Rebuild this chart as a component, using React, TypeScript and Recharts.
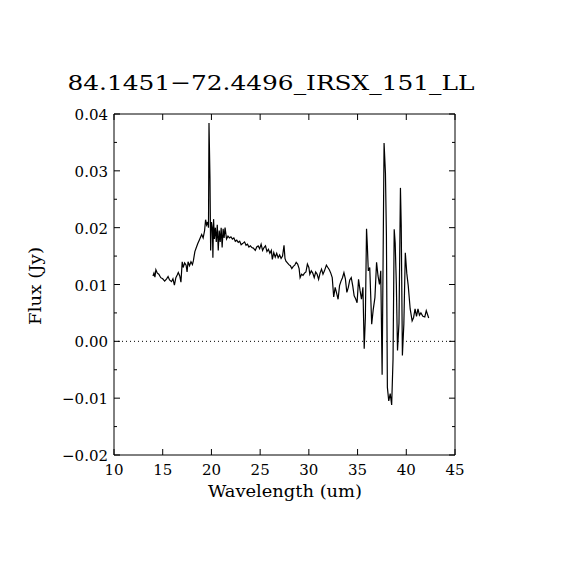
import { LineChart, Line, XAxis, YAxis, ReferenceLine } from 'recharts'

const title = '84.1451\u221272.4496_IRSX_151_LL'
const xLabel = 'Wavelength (um)'
const yLabel = 'Flux (Jy)'

const wavelength = [
  14.0, 14.1, 14.2, 14.3, 14.45, 14.6, 14.8, 15.0, 15.2, 15.4, 15.55, 15.7, 15.9, 16.05, 16.2,
  16.35, 16.5, 16.6, 16.75, 16.87, 17.0, 17.1, 17.25, 17.4, 17.5, 17.6, 17.75, 17.9, 18.05, 18.15,
  18.3, 18.45, 18.6, 18.75, 18.9, 19.0, 19.15, 19.3, 19.4, 19.5, 19.6, 19.7, 19.75, 19.85, 19.92,
  20.0, 20.1, 20.15, 20.22, 20.3, 20.4, 20.5, 20.6, 20.7, 20.8, 20.9, 21.0, 21.1, 21.2, 21.3,
  21.4, 21.55, 21.7, 21.85, 22.0, 22.15, 22.3, 22.45, 22.6, 22.75, 22.9, 23.05, 23.2, 23.4, 23.55,
  23.7, 23.85, 24.0, 24.15, 24.3, 24.5, 24.65, 24.8, 24.95, 25.1, 25.25, 25.4, 25.55, 25.7, 25.85,
  26.0, 26.15, 26.25, 26.4, 26.55, 26.7, 26.85, 27.0, 27.15, 27.3, 27.45, 27.55, 27.65, 27.8, 27.95,
  28.1, 28.25, 28.4, 28.55, 28.7, 28.85, 29.0, 29.1, 29.25, 29.4, 29.55, 29.7, 29.85, 30.0, 30.1,
  30.25, 30.4, 30.55, 30.7, 30.85, 31.0, 31.15, 31.3, 31.45, 31.6, 31.8, 31.95, 32.1, 32.25, 32.4,
  32.55, 32.7, 32.85, 33.0, 33.15, 33.3, 33.45, 33.6, 33.75, 33.9, 34.05, 34.2, 34.35, 34.5, 34.65,
  34.8, 34.95, 35.1, 35.25, 35.4, 35.55, 35.68, 35.8, 35.92, 36.0, 36.1, 36.25, 36.45, 36.6, 36.78,
  36.95, 37.1, 37.25, 37.38, 37.52, 37.72, 37.86, 37.96, 38.06, 38.2, 38.35, 38.5, 38.64, 38.76, 38.86,
  38.98, 39.1, 39.25, 39.4, 39.48, 39.6, 39.75, 39.9, 40.05, 40.2, 40.4, 40.6, 40.75, 40.9, 41.05,
  41.2, 41.35, 41.5, 41.7, 41.9, 42.05, 42.3,
]

const flux = [
  0.0115, 0.012, 0.0113, 0.0126, 0.012, 0.0118, 0.0112, 0.011, 0.0106, 0.011, 0.0114, 0.0108, 0.0105, 0.011, 0.0099,
  0.0112, 0.0117, 0.0121, 0.0115, 0.0104, 0.014, 0.013, 0.0138, 0.0134, 0.0122, 0.014, 0.0133, 0.014, 0.0135, 0.0142,
  0.0158, 0.0165, 0.0172, 0.0178, 0.0184, 0.0188, 0.0182, 0.0195, 0.0214, 0.0205, 0.021, 0.02, 0.0384, 0.0288, 0.016,
  0.021, 0.0198, 0.0147, 0.0215, 0.018, 0.02, 0.0175, 0.0205, 0.016, 0.0195, 0.0175, 0.02, 0.0165, 0.0198, 0.0182,
  0.02, 0.018, 0.0185, 0.0182, 0.0184, 0.018, 0.0182, 0.0176, 0.0178, 0.0174, 0.0176, 0.017, 0.0172, 0.0175, 0.0169,
  0.0171, 0.0166, 0.0168, 0.0165, 0.0164, 0.016, 0.0166, 0.0168, 0.0163, 0.0171, 0.016, 0.0165, 0.0168, 0.0158, 0.0162,
  0.0155, 0.016, 0.0144, 0.0156, 0.0148, 0.0155, 0.0147, 0.0152, 0.0146, 0.015, 0.0169, 0.0146, 0.0141, 0.0138, 0.0135,
  0.0133, 0.0128, 0.0132, 0.0134, 0.0139, 0.0136, 0.0128, 0.0112, 0.0118, 0.0116, 0.012, 0.0122, 0.0136, 0.013, 0.0118,
  0.0124, 0.012, 0.0112, 0.0122, 0.0118, 0.0109, 0.012, 0.0127, 0.0118, 0.0124, 0.0134, 0.013, 0.0126, 0.012, 0.0112,
  0.0078, 0.0095, 0.0085, 0.0074, 0.0098, 0.0106, 0.0112, 0.0121, 0.011, 0.0086, 0.0095, 0.0108, 0.0112, 0.0098, 0.008,
  0.0075, 0.0068, 0.0109, 0.009, 0.0074, 0.0095, -0.0013, 0.0042, 0.0198, 0.017, 0.0124, 0.013, 0.003, 0.0055, 0.0077,
  0.0139, 0.0115, 0.01, 0.0124, -0.0059, 0.0349, 0.0296, 0.0187, -0.0081, -0.0105, -0.0092, -0.0112, -0.0031, 0.0197, 0.0173,
  0.01, -0.0016, 0.0032, 0.027, 0.0205, -0.0025, 0.003, 0.0156, 0.012, 0.0098, 0.0057, 0.0036, 0.0042, 0.0057, 0.0044,
  0.0057, 0.0046, 0.005, 0.0044, 0.0043, 0.0054, 0.0041,
]

const xTicks = [10, 15, 20, 25, 30, 35, 40, 45]
const yTicks = [
  -0.02, -0.015, -0.01, -0.005, 0, 0.005, 0.01, 0.015, 0.02, 0.025, 0.03, 0.035, 0.04,
]

const spectrum = wavelength.map((wl, i) => ({ wl, flux: flux[i] }))

const FONT = '"DejaVu Serif", "Liberation Serif", serif'

const fmtFlux = (v: number) => {
  const s = Math.abs(v).toFixed(2)
  return v < -1e-9 ? `\u2212${s}` : s
}

const isMajorY = (v: number) => Math.abs(Math.round(v * 1000)) % 10 === 0

function BottomTick({ x, y, payload }: any) {
  return (
    <g>
      <line x1={x} x2={x} y1={y} y2={y - 6} stroke="#000" />
      <text x={x} y={y + 20} textAnchor="middle" fontSize={15} fontFamily={FONT} fill="#000">
        {payload.value}
      </text>
    </g>
  )
}

function TopTick({ x, y }: any) {
  return <line x1={x} x2={x} y1={y} y2={y + 6} stroke="#000" />
}

function LeftTick({ x, y, payload }: any) {
  const major = isMajorY(payload.value)
  return (
    <g>
      <line x1={x} x2={x + (major ? 6 : 3)} y1={y} y2={y} stroke="#000" />
      {major && (
        <text x={x - 6} y={y + 6} textAnchor="end" fontSize={15} fontFamily={FONT} fill="#000">
          {fmtFlux(payload.value)}
        </text>
      )}
    </g>
  )
}

function RightTick({ x, y, payload }: any) {
  const major = isMajorY(payload.value)
  return <line x1={x} x2={x - (major ? 6 : 3)} y1={y} y2={y} stroke="#000" />
}

export default function App() {
  return (
    <div style={{ position: 'absolute', left: 0, top: 0, width: 570, height: 570, background: '#fff' }}>
      <LineChart
        width={570}
        height={570}
        data={spectrum}
        margin={{ top: 104, right: 105, bottom: 85, left: 54 }}
      >
        <XAxis
          xAxisId="bottom"
          dataKey="wl"
          type="number"
          domain={[10, 45]}
          ticks={xTicks}
          height={30}
          tickSize={0}
          tickMargin={0}
          tickLine={false}
          axisLine={{ stroke: '#000' }}
          tick={<BottomTick />}
          interval={0}
          allowDataOverflow
        />
        <XAxis
          xAxisId="top"
          orientation="top"
          dataKey="wl"
          type="number"
          domain={[10, 45]}
          ticks={xTicks}
          height={10}
          tickSize={0}
          tickMargin={0}
          tickLine={false}
          axisLine={{ stroke: '#000' }}
          tick={<TopTick />}
          interval={0}
          allowDataOverflow
        />
        <YAxis
          yAxisId="left"
          type="number"
          domain={[-0.02, 0.04]}
          ticks={yTicks}
          width={60}
          tickSize={0}
          tickMargin={0}
          tickLine={false}
          axisLine={{ stroke: '#000' }}
          tick={<LeftTick />}
          interval={0}
          allowDataOverflow
        />
        <YAxis
          yAxisId="right"
          orientation="right"
          type="number"
          domain={[-0.02, 0.04]}
          ticks={yTicks}
          width={10}
          tickSize={0}
          tickMargin={0}
          tickLine={false}
          axisLine={{ stroke: '#000' }}
          tick={<RightTick />}
          interval={0}
          allowDataOverflow
        />
        <ReferenceLine
          xAxisId="bottom"
          yAxisId="left"
          y={0}
          stroke="#000"
          strokeDasharray="1 3"
        />
        <Line
          xAxisId="bottom"
          yAxisId="left"
          type="linear"
          dataKey="flux"
          stroke="#000"
          strokeWidth={1.2}
          dot={false}
          isAnimationActive={false}
        />
      </LineChart>
      <svg
        width={570}
        height={570}
        style={{ position: 'absolute', left: 0, top: 0, pointerEvents: 'none' }}
      >
        <text
          x={271}
          y={90}
          textAnchor="middle"
          fontSize={21}
          fontFamily={FONT}
          fill="#000"
          textLength={407}
          lengthAdjust="spacingAndGlyphs"
        >
          {title}
        </text>
        <text
          x={285}
          y={497}
          textAnchor="middle"
          fontSize={16}
          fontFamily={FONT}
          fill="#000"
          textLength={154}
          lengthAdjust="spacingAndGlyphs"
        >
          {xLabel}
        </text>
        <text
          x={41}
          y={286}
          textAnchor="middle"
          fontSize={16}
          fontFamily={FONT}
          fill="#000"
          textLength={78}
          lengthAdjust="spacingAndGlyphs"
          transform="rotate(-90 41 286)"
        >
          {yLabel}
        </text>
      </svg>
    </div>
  )
}
